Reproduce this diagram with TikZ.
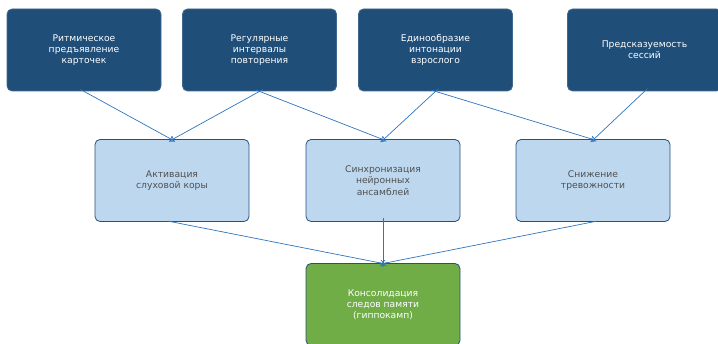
\documentclass[tikz,border=0pt]{standalone}
\usepackage{fontspec}
\setmainfont{DejaVu Sans}
\usetikzlibrary{arrows.meta}
\definecolor{topblue}{RGB}{31,78,121}
\definecolor{midblue}{RGB}{189,215,238}
\definecolor{midline}{RGB}{40,80,125}
\definecolor{memgreen}{RGB}{112,173,71}
\definecolor{linkblue}{RGB}{46,117,190}
\definecolor{midtext}{RGB}{80,80,80}
\begin{document}
\begin{tikzpicture}[x=1pt,y=-1pt,
  box/.style={rectangle,rounded corners=5pt,minimum width=154pt,minimum height=82pt,
    align=center,font=\fontsize{9.2}{11.2}\selectfont,line width=0.8pt},
  cause/.style={box,fill=topblue,draw=topblue!85!white,text=white},
  effect/.style={box,fill=midblue,draw=midline,text=midtext},
  result/.style={box,fill=memgreen,draw=midline,text=white},
  link/.style={draw=linkblue,line width=0.7pt,-{Straight Barb[length=4pt,width=6pt]},
    shorten <=-4pt,shorten >=-4pt}]
  \useasboundingbox (0,0) rectangle (718,344);

  % top row
  \node[cause] (rhythm) at (84,50) {Ритмическое\\предъявление\\карточек};
  \node[cause] (interval) at (259.5,50) {Регулярные\\интервалы\\повторения};
  \node[cause] (voice) at (435.5,50) {Единообразие\\интонации\\взрослого};
  \node[cause] (predict) at (644.5,50) {Предсказуемость\\сессий};

  % middle row
  \node[effect] (cortex) at (172,180.5) {Активация\\слуховой коры};
  \node[effect] (sync) at (383,180.5) {Синхронизация\\нейронных\\ансамблей};
  \node[effect] (anxiety) at (593,180.5) {Снижение\\тревожности};

  % bottom
  \node[result] (memory) at (383,304.5) {Консолидация\\следов памяти\\(гиппокамп)};

  \draw[link] (rhythm.south) -- ([xshift=-1pt]cortex.north);
  \draw[link] (interval.south) -- ([xshift=1pt]cortex.north);
  \draw[link] (interval.south) -- ([xshift=-1pt]sync.north);
  \draw[link] (voice.south) -- ([xshift=1pt]sync.north);
  \draw[link] (voice.south) -- ([xshift=-1pt]anxiety.north);
  \draw[link] (predict.south) -- ([xshift=1pt]anxiety.north);

  \draw[link] (cortex.south) -- ([xshift=-2pt]memory.north);
  \draw[link] (sync.south) -- (memory.north);
  \draw[link] (anxiety.south) -- ([xshift=2pt]memory.north);
\end{tikzpicture}
\end{document}
